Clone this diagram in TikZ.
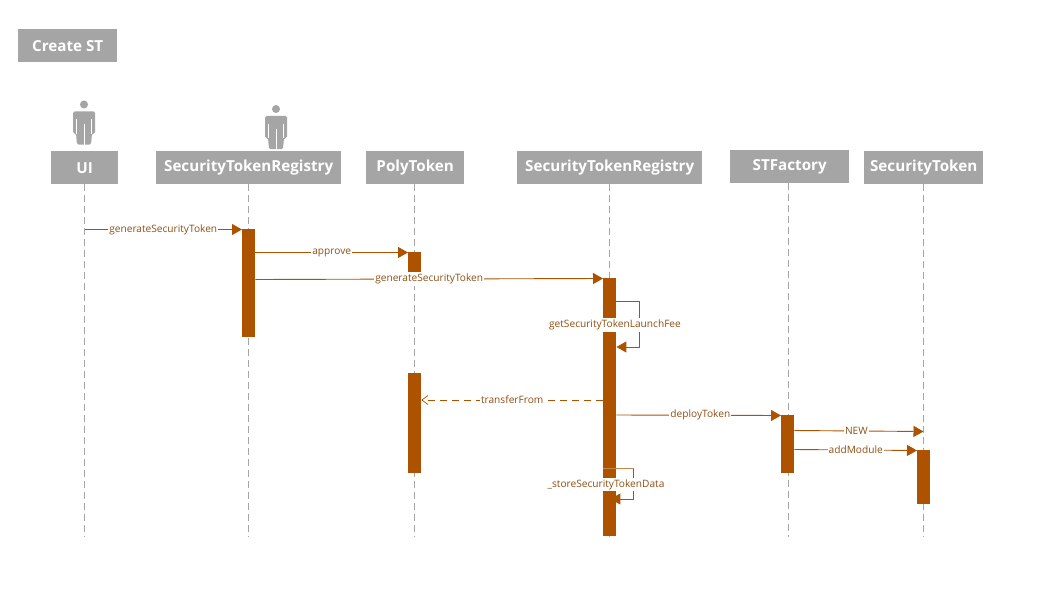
\documentclass[tikz,border=0pt]{standalone}
\usepackage{fontspec}
\setmainfont{Open Sans}
\usetikzlibrary{arrows.meta}
\definecolor{hdr}{HTML}{A5A5A5}
\definecolor{act}{HTML}{AD5300}
\definecolor{msgtxt}{HTML}{8F4F14}
\tikzset{
  x=1pt,y=-1pt,
  header/.style={fill=hdr,text=white,font=\fontsize{15.2}{17}\selectfont\bfseries,inner sep=0pt,anchor=north west,minimum height=33pt},
  lifeline/.style={draw=hdr,line width=1pt,dash pattern=on 7pt off 4pt},
  bar/.style={fill=act,inner sep=0pt,anchor=north west,minimum width=13pt},
  msg/.style={draw=act,line width=0.9pt,-{Triangle[length=10pt,width=11pt,fill=act]}},
  retmsg/.style={draw=act,line width=0.9pt,dash pattern=on 7pt off 5pt,-{Straight Barb[length=6pt,width=9pt,line width=0.7pt]}},
  lbl/.style={fill=white,text=msgtxt,font=\fontsize{10.15}{12}\selectfont,inner xsep=1pt,inner ysep=1.5pt},
  actorfig/.pic={
    \fill[hdr] (0,-40) circle (4);
    \fill[hdr,rounded corners=1.5pt] (-11,-33) -- (11,-33) -- (11,-11) -- (8,-11) -- (7,0) -- (-7,0) -- (-8,-11) -- (-11,-11) -- cycle;
    \draw[white,line width=1pt] (-7.5,-25) -- (-7.5,-11) (7.5,-25) -- (7.5,-11) (0,-20) -- (0,0);
  }
}
\begin{document}
\begin{tikzpicture}
\useasboundingbox (0,0) rectangle (1054,607);
\fill[white] (0,0) rectangle (1054,607);

\node[header,minimum width=99pt] (title) at (18,29) {Create ST};

\pic at (84,144.5) {actorfig};
\pic at (276,149) {actorfig};

\node[header,minimum width=67pt] (ui) at (51,151) {UI};
\node[header,minimum width=185pt] (reg) at (156,151) {SecurityTokenRegistry};
\node[header,minimum width=98pt] (poly) at (366,151) {PolyToken};
\node[header,minimum width=185pt] (regb) at (517,151) {SecurityTokenRegistry};
\node[header,minimum width=119pt] (fac) at (730,150) {STFactory};
\node[header,minimum width=119pt] (st) at (864,151) {SecurityToken};

\draw[lifeline] (ui.south) -- ++(0,353);
\draw[lifeline] (reg.south) -- ++(0,353);
\draw[lifeline] ([xshift=-0.5pt]poly.south) -- ++(0,353);
\draw[lifeline] ([xshift=-0.5pt]regb.south) -- ++(0,353);
\draw[lifeline] ([xshift=-1pt]fac.south) -- ++(0,354);
\draw[lifeline] (st.south) -- ++(0,353);

\node[bar,minimum height=108pt] (a) at (242,229) {};
\node[bar,minimum height=21pt] (b) at (408,252) {};
\node[bar,minimum height=100pt] (c) at (408,373) {};
\node[bar,minimum height=258pt] (d) at (603,278) {};
\node[bar,minimum height=58pt] (e) at (781,415) {};
\node[bar,minimum height=54pt] (f) at (917,450) {};

\coordinate (uistart) at (84.5,229.5);
\coordinate (ltop) at (639.5,301.5);
\coordinate (lbot) at (639.5,347);
\coordinate (mtop) at (633.5,468.5);
\coordinate (mbot) at (633.5,499);
\coordinate (newend) at (923.5,431.5);

\draw[msg] (uistart) -- node[lbl,pos=.5] {generateSecurityToken} ([yshift=-0.5pt]a.north west);
\draw[msg] ([yshift=-23.5pt]a.north east) -- node[lbl,pos=.5] {approve} ([yshift=-0.5pt]b.north west);
\draw[msg] ([yshift=-50.5pt]a.north east) -- node[lbl,pos=.5] {generateSecurityToken} ([yshift=-0.5pt]d.north west);
\draw[act,line width=0.9pt] ([yshift=-23.5pt]d.north east) -- (ltop);
\draw[msg] (ltop) -- (lbot) -- ([yshift=-69pt]d.north east);
\node[lbl] (ltxt) at (615,325) {getSecurityTokenLaunchFee};
\draw[retmsg] ([yshift=-122pt]d.north west) -- node[lbl,pos=.5] {transferFrom} ([yshift=-27pt]c.north east);
\draw[msg] ([yshift=-137pt]d.north east) -- node[lbl,pos=.51] {deployToken} ([yshift=-0.5pt]e.north west);
\draw[msg] ([yshift=-15.5pt]e.north east) -- node[lbl,pos=.48] {NEW} (newend);
\draw[msg] ([yshift=-34.5pt]e.north east) -- node[lbl,pos=.5] {addModule} ([yshift=-0.5pt]f.north west);
\draw[line width=0.9pt,draw=act!70!white] ([yshift=-190.5pt]d.north west) -- (mtop);
\draw[msg] (mtop) -- (mbot) -- ([xshift=-6pt,yshift=-221pt]d.north east);
\node[lbl] (mtxt) at (606,484.5) {\_storeSecurityTokenData};
\end{tikzpicture}
\end{document}
